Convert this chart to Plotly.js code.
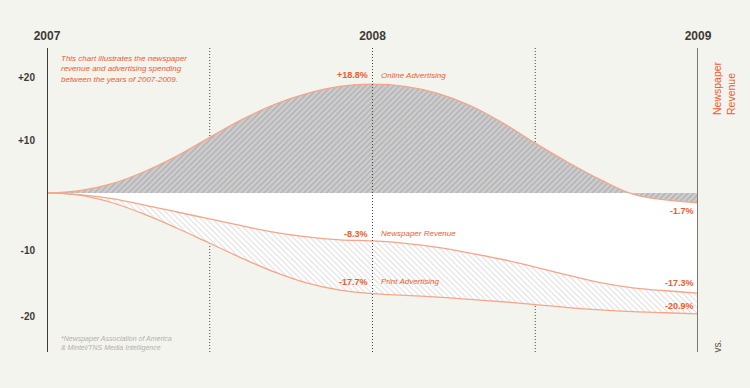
<!DOCTYPE html>
<html><head><meta charset="utf-8">
<script src="https://cdn.plot.ly/plotly-3.0.1.min.js"></script>
<style>html,body{margin:0;padding:0;background:#f4f4ef;}</style>
</head><body><div id="chart" style="width:750px;height:388px;"></div>
<script>
const years = [2007.0, 2007.1, 2007.2, 2007.3, 2007.4, 2007.5, 2007.6, 2007.7, 2007.8, 2007.9, 2008.0,
               2008.1, 2008.2, 2008.3, 2008.4, 2008.5, 2008.6, 2008.7, 2008.8, 2008.9, 2009.0];
const onlineAdvertising = [0, 0.4, 1.6, 3.7, 6.4, 9.6, 12.7, 15.3, 17.2, 18.4, 18.8,
                           18.4, 17.2, 15.1, 12.1, 8.6, 5.3, 2.3, -0.2, -1.2, -1.7];
const newspaperRevenue = [0, -0.3, -1.0, -2.1, -3.3, -4.5, -5.7, -6.8, -7.6, -8.1, -8.3,
                          -8.7, -9.4, -10.4, -11.5, -12.8, -14.2, -15.5, -16.4, -16.9, -17.3];
const printAdvertising = [0, -0.4, -1.7, -3.7, -6.1, -8.7, -11.3, -13.7, -15.6, -16.8, -17.4,
                          -17.7, -18.0, -18.4, -18.8, -19.3, -19.8, -20.2, -20.5, -20.7, -20.9];
const yearTicks = [2007, 2008, 2009];
const yearLabels = ['2007', '2008', '2009'];
const yTickVals = [20, 9, -10, -21.4];
const yTickText = ['+20', '+10', '-10', '-20'];
const midLabels = ['+18.8%', '-8.3%', '-17.7%'];
const seriesNames = ['Online Advertising', 'Newspaper Revenue', 'Print Advertising'];
const endLabels = ['-1.7%', '-17.3%', '-20.9%'];

const FONT = 'Liberation Sans, Arial, Helvetica, sans-serif';
const ORANGE = '#ef5a2e';
const LINE = '#f4a68a';

const traces = [
  {x: years, y: newspaperRevenue, type: 'scatter', mode: 'lines', fill: 'tozeroy',
   fillcolor: '#ffffff', line: {color: LINE, width: 1.3, shape: 'spline', smoothing: 1.1}, hoverinfo: 'skip'},
  {x: years, y: printAdvertising, type: 'scatter', mode: 'lines', fill: 'tonexty',
   fillcolor: '#ffffff',
   fillpattern: {shape: '\\', bgcolor: '#ffffff', fgcolor: '#dcdcdc', size: 4, solidity: 0.25},
   line: {color: LINE, width: 1.3, shape: 'spline', smoothing: 1.1}, hoverinfo: 'skip'},
  {x: years, y: onlineAdvertising, type: 'scatter', mode: 'lines', fill: 'tozeroy',
   fillcolor: '#c6c6c7',
   fillpattern: {shape: '/', bgcolor: '#cfcfd0', fgcolor: '#b4b4b6', size: 4, solidity: 0.45},
   line: {color: LINE, width: 1.3, shape: 'spline', smoothing: 1.1}, hoverinfo: 'skip'}
];

const midY = [onlineAdvertising[10], newspaperRevenue[10], printAdvertising[10]];
const midShift = [9, 7, 12];
const endY = [onlineAdvertising[20], newspaperRevenue[20], printAdvertising[20]];
const endShift = [-8, 10, 8];

const annotations = [];
for (let i = 0; i < 3; i++) {
  annotations.push({x: 2008, y: midY[i], xref: 'x', yref: 'y', xanchor: 'right', yanchor: 'middle',
    xshift: -4, yshift: midShift[i], showarrow: false, borderpad: 0, text: '<b>' + midLabels[i] + '</b>',
    font: {family: FONT, size: 9, color: ORANGE}});
  annotations.push({x: 2008, y: midY[i], xref: 'x', yref: 'y', xanchor: 'left', yanchor: 'middle',
    xshift: 7, yshift: midShift[i], showarrow: false, borderpad: 0, text: '<i>' + seriesNames[i] + '</i>',
    font: {family: FONT, size: 8, color: ORANGE}});
  annotations.push({x: 2009, y: endY[i], xref: 'x', yref: 'y', xanchor: 'right', yanchor: 'middle',
    xshift: -3, yshift: endShift[i], showarrow: false, borderpad: 0, text: '<b>' + endLabels[i] + '</b>',
    font: {family: FONT, size: 9, color: ORANGE}});
}
annotations.push({x: 2007, y: 1, xref: 'x', yref: 'paper', xanchor: 'left', yanchor: 'top',
  xshift: 13, yshift: -5, showarrow: false, align: 'left', borderpad: 0,
  text: '<i>This chart illustrates the newspaper<br>revenue and advertising spending<br>between the years of 2007-2009.</i>',
  font: {family: FONT, size: 8, color: ORANGE}});
annotations.push({x: 2007, y: 0, xref: 'x', yref: 'paper', xanchor: 'left', yanchor: 'bottom',
  xshift: 13, yshift: -1, showarrow: false, align: 'left', borderpad: 0,
  text: '<i>*Newspaper Association of America<br>&amp; Mintel/TNS Media Intelligence</i>',
  font: {family: FONT, size: 7, color: '#b3b1ad'}});
annotations.push({x: 2009, y: 0.8668, xref: 'x', yref: 'paper', xanchor: 'center', yanchor: 'middle',
  xshift: 26.5, showarrow: false, textangle: -90, align: 'left', borderpad: 0,
  text: 'Newspaper<br>Revenue', font: {family: FONT, size: 10.5, color: ORANGE}});
annotations.push({x: 2009, y: 0.0197, xref: 'x', yref: 'paper', xanchor: 'center', yanchor: 'middle',
  xshift: 19.5, showarrow: false, textangle: -90, borderpad: 0,
  text: 'vs.', font: {family: FONT, size: 10, color: '#5a5550'}});

const DOT = {color: '#4a4642', width: 1, dash: '1px,2px'};
const shapes = [
  {type: 'line', xref: 'x', yref: 'paper', x0: 2007.5, x1: 2007.5, y0: 0, y1: 1.005, layer: 'below', line: DOT},
  {type: 'line', xref: 'x', yref: 'paper', x0: 2008.5, x1: 2008.5, y0: 0, y1: 1.005, layer: 'below', line: DOT},
  {type: 'line', xref: 'x', yref: 'paper', x0: 2008, x1: 2008, y0: 0, y1: 1.005, layer: 'above', line: DOT},
  {type: 'line', xref: 'x', yref: 'paper', x0: 2007, x1: 2007, y0: 0, y1: 1, layer: 'above',
   line: {color: '#3e3a36', width: 2}},
  {type: 'line', xref: 'x', yref: 'paper', x0: 2009, x1: 2009, y0: 0, y1: 1, layer: 'above',
   line: {color: '#7d7873', width: 2}}
];

const layout = {
  width: 750, height: 388,
  margin: {l: 47, r: 52, t: 48, b: 36, pad: 0},
  paper_bgcolor: '#f4f4ef', plot_bgcolor: '#f4f4ef',
  showlegend: false,
  xaxis: {range: [2007, 2009], side: 'top', tickvals: yearTicks, ticktext: yearLabels,
          showgrid: false, zeroline: false, showline: false, ticks: '', ticklabelstandoff: 5,
          tickfont: {family: FONT, size: 12, color: '#3d3a36', weight: 'bold'}, fixedrange: true},
  yaxis: {range: [-27.48, 25.03], tickvals: yTickVals, ticktext: yTickText,
          showgrid: false, zeroline: false, showline: false, ticks: '', ticklabelstandoff: 11,
          tickfont: {family: FONT, size: 10, color: '#3d3a36', weight: 'bold'}, fixedrange: true},
  shapes: shapes,
  annotations: annotations
};

Plotly.newPlot('chart', traces, layout, {staticPlot: true, displayModeBar: false});
</script></body></html>
